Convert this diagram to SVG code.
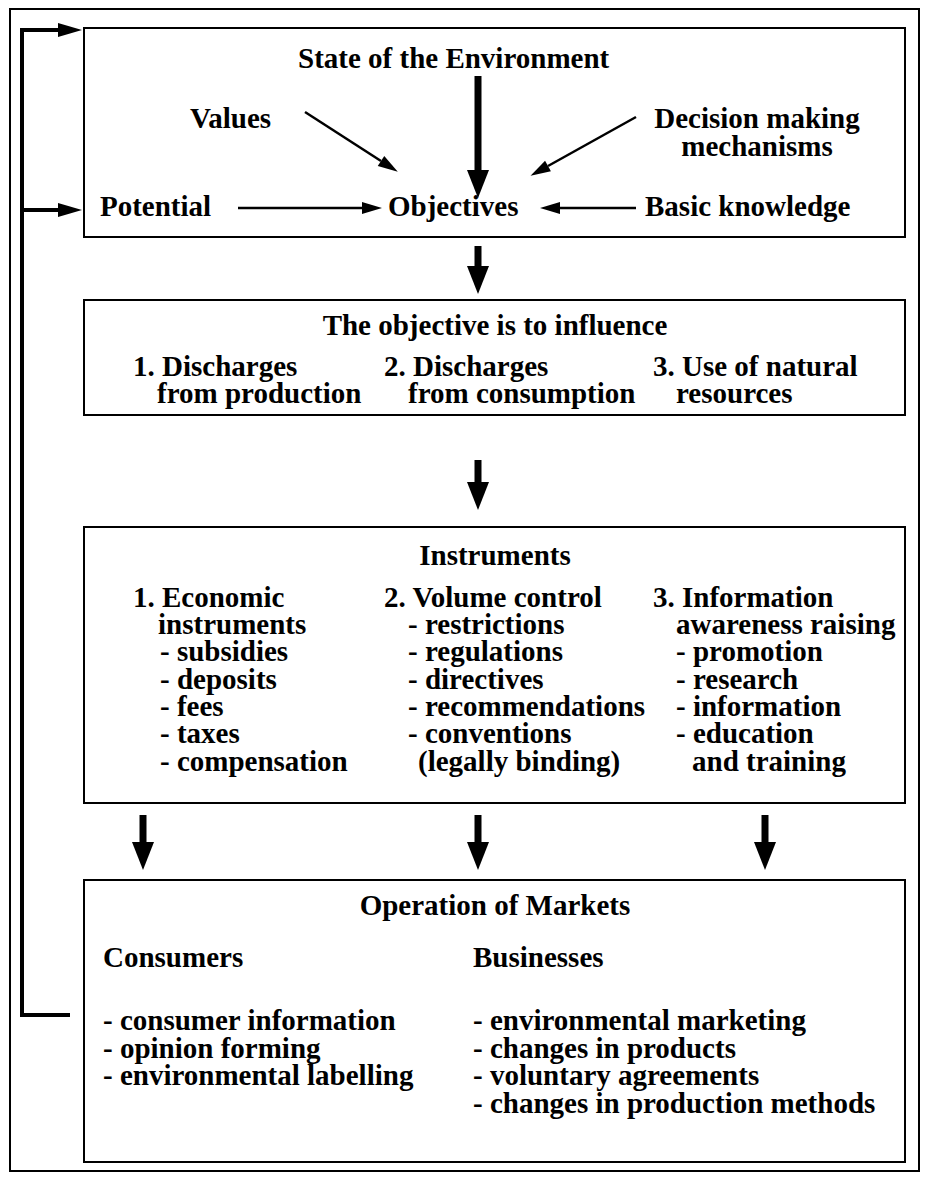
<svg xmlns="http://www.w3.org/2000/svg" width="929" height="1180" viewBox="0 0 929 1180">
<style>
text{font-family:"Liberation Serif","Times New Roman",serif;font-weight:bold;font-size:29px;fill:#000}
.c{text-anchor:middle}
.box{fill:none;stroke:#000;stroke-width:2}
.thin{stroke:#000;stroke-width:2.5;fill:none}
.thick{stroke:#000;stroke-width:7;fill:none}
.fb{stroke:#000;stroke-width:4;fill:none}
</style>
<defs>
<marker id="big" markerUnits="userSpaceOnUse" markerWidth="30" markerHeight="24" refX="0" refY="12" orient="auto" overflow="visible"><path d="M0,1 L28,12 L0,23 z" fill="#000"/></marker>
<marker id="small" markerUnits="userSpaceOnUse" markerWidth="22" markerHeight="14" refX="0" refY="7" orient="auto" overflow="visible"><path d="M0,1 L20,7 L0,13 z" fill="#000"/></marker>
<marker id="fbh" markerUnits="userSpaceOnUse" markerWidth="26" markerHeight="14" refX="0" refY="7" orient="auto" overflow="visible"><path d="M0,0 L24,7 L0,14 z" fill="#000"/></marker>
</defs>
<rect width="929" height="1180" fill="#fff"/>
<rect class="box" x="10" y="9" width="909" height="1162"/>

<g id="box-state">
<rect class="box" x="84" y="28" width="821" height="209"/>
<text x="298" y="68">State of the Environment</text>
<text x="190" y="128">Values</text>
<text class="c" x="757" y="128">Decision making</text>
<text class="c" x="757" y="156">mechanisms</text>
<text x="100" y="216">Potential</text>
<text x="388" y="216">Objectives</text>
<text x="645" y="216">Basic knowledge</text>
</g>

<g id="box-objective">
<rect class="box" x="84" y="300" width="821" height="115"/>
<text class="c" x="495" y="335">The objective is to influence</text>
<text x="133" y="376">1. Discharges</text>
<text x="157" y="403">from production</text>
<text x="384" y="376">2. Discharges</text>
<text x="408" y="403">from consumption</text>
<text x="653" y="376">3. Use of natural</text>
<text x="676" y="403">resources</text>
</g>

<g id="box-instruments">
<rect class="box" x="84" y="527" width="821" height="276"/>
<text class="c" x="495" y="565">Instruments</text>
<text x="133" y="607">1. Economic</text>
<text x="158" y="634">instruments</text>
<text x="160" y="661">- subsidies</text>
<text x="160" y="689">- deposits</text>
<text x="160" y="716">- fees</text>
<text x="160" y="743">- taxes</text>
<text x="160" y="771">- compensation</text>
<text x="384" y="607">2. Volume control</text>
<text x="408" y="634">- restrictions</text>
<text x="408" y="661">- regulations</text>
<text x="408" y="689">- directives</text>
<text x="408" y="716">- recommendations</text>
<text x="408" y="743">- conventions</text>
<text x="418" y="771">(legally binding)</text>
<text x="653" y="607">3. Information</text>
<text x="676" y="634">awareness raising</text>
<text x="676" y="661">- promotion</text>
<text x="676" y="689">- research</text>
<text x="676" y="716">- information</text>
<text x="676" y="743">- education</text>
<text x="692" y="771">and training</text>
</g>

<g id="box-markets">
<rect class="box" x="84" y="880" width="821" height="282"/>
<text class="c" x="495" y="915">Operation of Markets</text>
<text x="103" y="967">Consumers</text>
<text x="473" y="967">Businesses</text>
<text x="103" y="1030">- consumer information</text>
<text x="103" y="1058">- opinion forming</text>
<text x="103" y="1085">- environmental labelling</text>
<text x="473" y="1030">- environmental marketing</text>
<text x="473" y="1058">- changes in products</text>
<text x="473" y="1085">- voluntary agreements</text>
<text x="473" y="1113">- changes in production methods</text>
</g>

<g id="connectors">
<line class="thick" x1="478" y1="76" x2="478" y2="170" marker-end="url(#big)"/>
<line class="thin" x1="305" y1="112" x2="381" y2="161" marker-end="url(#small)"/>
<line class="thin" x1="636" y1="117" x2="548" y2="166" marker-end="url(#small)"/>
<line class="thin" x1="238" y1="208" x2="362" y2="208" marker-end="url(#small)"/>
<line class="thin" x1="636" y1="208" x2="560" y2="208" marker-end="url(#small)"/>
<line class="thick" x1="478" y1="246" x2="478" y2="266" marker-end="url(#big)"/>
<line class="thick" x1="478" y1="460" x2="478" y2="482" marker-end="url(#big)"/>
<line class="thick" x1="143" y1="815" x2="143" y2="842" marker-end="url(#big)"/>
<line class="thick" x1="478" y1="815" x2="478" y2="842" marker-end="url(#big)"/>
<line class="thick" x1="765" y1="815" x2="765" y2="842" marker-end="url(#big)"/>
<polyline class="fb" points="70,1015 22,1015 22,30"/>
<line class="fb" x1="20" y1="30" x2="58" y2="30" marker-end="url(#fbh)"/>
<line class="fb" x1="20" y1="210" x2="58" y2="210" marker-end="url(#fbh)"/>
</g>
</svg>
